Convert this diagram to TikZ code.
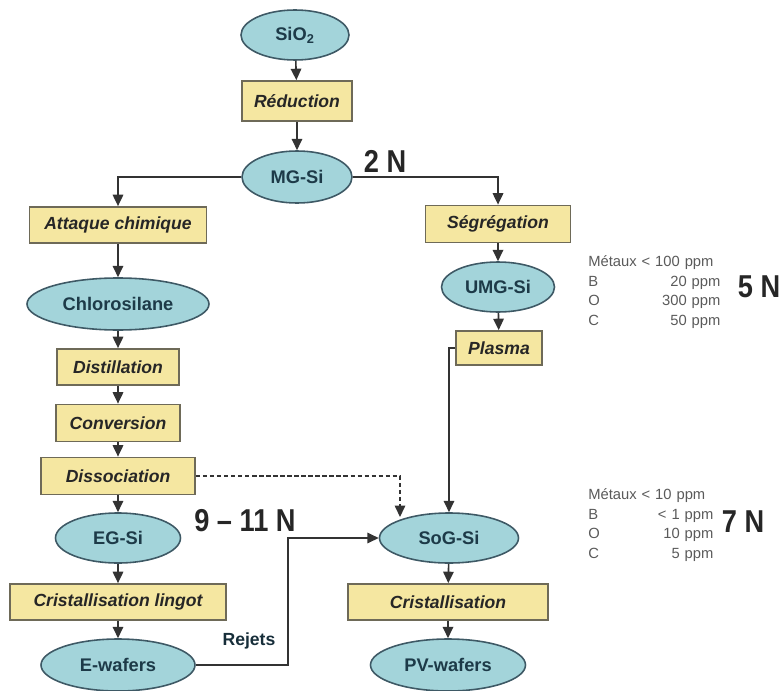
\documentclass[tikz,border=0pt]{standalone}
\usepackage{fontspec}
\setmainfont{Liberation Sans}
\newfontfamily\narrowsans[FakeStretch=0.86]{Liberation Sans}
\usepackage{xcolor}
\usepackage{tikz}
\usetikzlibrary{positioning, arrows.meta, shapes.geometric}
\definecolor{sTeal}{HTML}{A3D4DA}
\definecolor{sTealLine}{HTML}{3E5965}
\definecolor{sTealText}{HTML}{1D3A48}
\definecolor{sSand}{HTML}{F5E7A1}
\definecolor{sSandLine}{HTML}{6E6A58}
\definecolor{sGrey}{HTML}{5A5A5A}

\tikzset{
  prod/.style={ellipse, draw=sTealLine, fill=sTeal, line width=0.9pt, inner sep=0pt,
    font=\bfseries\fontsize{10.4}{12}\selectfont, text=sTealText},
  proc/.style={rectangle, draw=sSandLine, fill=sSand, line width=1pt, inner sep=0pt,
    minimum height=0.72cm, font=\bfseries\itshape\fontsize{10}{12}\selectfont, text=black!85},
  flow/.style={draw=black!80, line width=0.9pt, -{Triangle[length=6.5pt,width=6pt]}},
  purity/.style={font=\narrowsans\bfseries\fontsize{18}{20}\selectfont, text=black!85, inner sep=0pt},
  spec/.style={font=\fontsize{8.4}{11.3}\selectfont, text=sGrey, inner sep=0pt,
    anchor=north west, align=left},
}

\begin{document}
\begin{tikzpicture}
  \useasboundingbox (0,0) rectangle (15.68,-13.8);

  % trunk
  \node[prod, minimum width=2.16cm, minimum height=1.0cm] (sio2) at (5.90,-0.70) {SiO\textsubscript{2}};
  \node[proc, minimum width=2.2cm, minimum height=0.8cm] (reduc) at (5.94,-2.02) {Réduction};
  \node[prod, minimum width=2.2cm, minimum height=1.04cm] (mgsi) at (5.94,-3.54) {MG-Si};

  % chemical route
  \node[proc, minimum width=3.54cm] (attaque) at (2.36,-4.50) {Attaque chimique};
  \node[prod, minimum width=3.64cm, minimum height=1.04cm] (chloro) at (2.36,-6.08) {Chlorosilane};
  \node[proc, minimum width=2.44cm] (distil) at (2.36,-7.34) {Distillation};
  \node[proc, minimum width=2.48cm, minimum height=0.74cm] (conv) at (2.36,-8.46) {Conversion};
  \node[proc, minimum width=3.08cm, minimum height=0.74cm] (diss) at (2.36,-9.52) {Dissociation};
  \node[prod, minimum width=2.5cm, minimum height=1.0cm] (egsi) at (2.36,-10.76) {EG-Si};
  \node[proc, minimum width=4.32cm] (crlingot) at (2.36,-12.04) {Cristallisation lingot};
  \node[prod, minimum width=3.08cm, minimum height=1.04cm] (ewafers) at (2.36,-13.30) {E-wafers};

  % metallurgical route
  \node[proc, minimum width=2.9cm, minimum height=0.74cm] (segreg) at (9.96,-4.48) {Ségrégation};
  \node[prod, minimum width=2.26cm, minimum height=1.0cm] (umgsi) at (9.96,-5.74) {UMG-Si};
  \node[proc, minimum width=1.72cm, minimum height=0.68cm] (plasma) at (9.98,-6.96) {Plasma};
  \node[prod, minimum width=2.78cm, minimum height=1.0cm] (sogsi) at (8.98,-10.76) {SoG-Si};
  \node[proc, minimum width=4.0cm] (crist) at (8.96,-12.04) {Cristallisation};
  \node[prod, minimum width=3.1cm, minimum height=1.04cm] (pvwafers) at (8.96,-13.30) {PV-wafers};

  % purity levels
  \node[purity] (twoN) at (7.70,-3.22) {2 N};
  \node[purity] (nineN) at (4.90,-10.42) {9 – 11 N};
  \node[purity] (fiveN) at (15.18,-5.74) {5 N};
  \node[purity] (sevenN) at (14.86,-10.44) {7 N};
  \node[spec, text width=2.64cm] (specumg) at (11.76,-5.10)
    {Métaux < 100 ppm\\ B\hfill 20 ppm\\ O\hfill 300 ppm\\ C\hfill 50 ppm};
  \node[spec, text width=2.5cm] (specsog) at (11.76,-9.76)
    {Métaux < 10 ppm\\ B\hfill < 1 ppm\\ O\hfill 10 ppm\\ C\hfill 5 ppm};
  \node[font=\bfseries\fontsize{10}{12}\selectfont, text=sTealText!80!black] (rejets) at (4.98,-12.82) {Rejets};

  \coordinate (rejbend) at (5.76,-10.76);
  \coordinate (dashend) at (8.0,-10.34);

  \draw[flow] (sio2) -- (reduc);
  \draw[flow] (reduc) -- (mgsi);
  \draw[flow] (mgsi.west) -| (attaque.north);
  \draw[flow] (mgsi.east) -| (segreg.north);
  \draw[flow] (attaque) -- (chloro);
  \draw[flow] (chloro) -- (distil);
  \draw[flow] (distil) -- (conv);
  \draw[flow] (conv) -- (diss);
  \draw[flow] (diss) -- (egsi);
  \draw[flow] (egsi) -- (crlingot);
  \draw[flow] (crlingot) -- (ewafers);
  \draw[flow] (segreg) -- (umgsi);
  \draw[flow] (umgsi) -- (plasma);
  \draw[flow] (plasma.west) -| (sogsi.north);
  \draw[flow, line width=0.7pt, dash pattern=on 2.5pt off 1.5pt] (diss.east) -| (dashend);
  \draw[flow] (ewafers.east) -| (rejbend) -- (sogsi.west);
  \draw[flow] (sogsi) -- (crist);
  \draw[flow] (crist) -- (pvwafers);
\end{tikzpicture}
\end{document}
